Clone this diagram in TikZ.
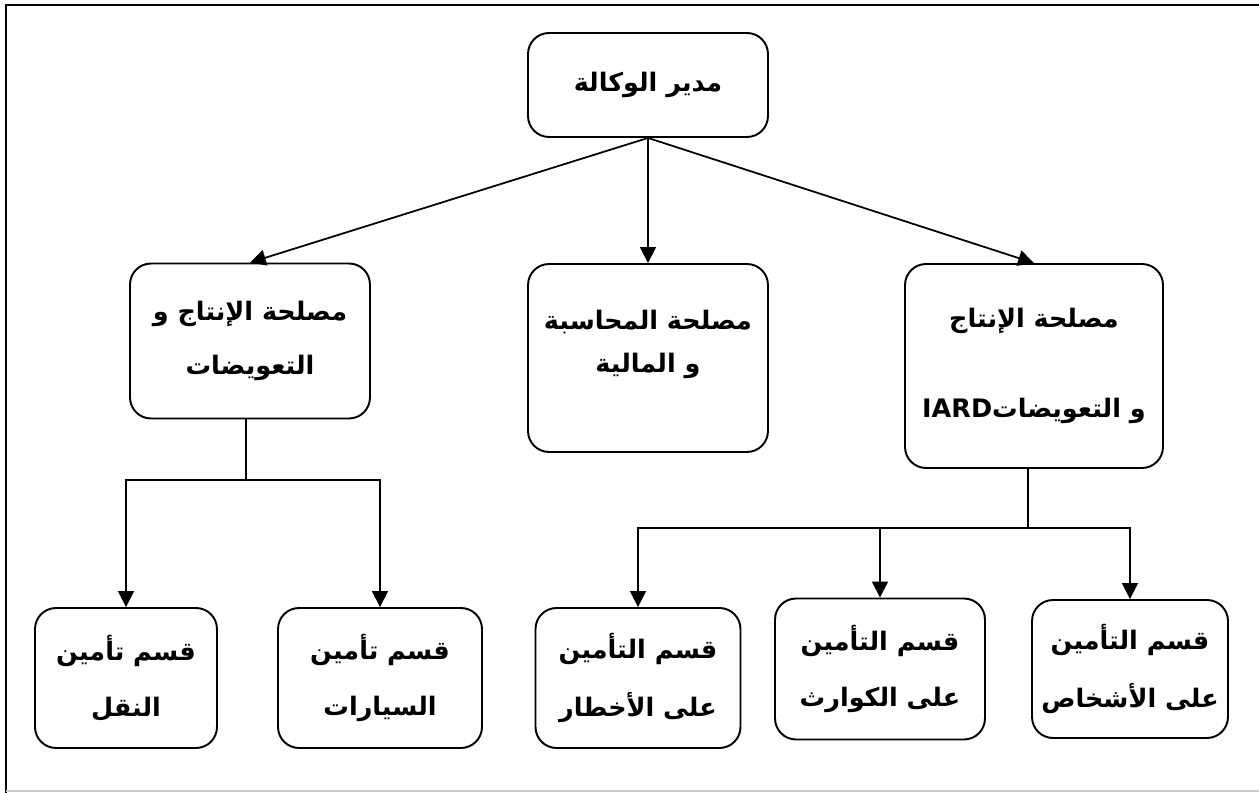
\documentclass[tikz,border=0pt]{standalone}
\usepackage{fontspec}
\usepackage{tikz}
\usetikzlibrary{arrows.meta, calc}
\TeXXeTstate=1
\newfontfamily\arabicfont[Script=Arabic]{DejaVu Sans}
\newcommand{\ar}[1]{{\arabicfont\bfseries\beginR #1\endR}}

\tikzset{
    unit/.style={draw, line width=1.1pt, rounded corners=0.42cm, align=center,
        inner sep=0pt, font=\fontsize{14.5}{17}\selectfont},
    link/.style={line width=1pt, -{Triangle[length=9pt,width=9pt]}}
}

\begin{document}
\begin{tikzpicture}[x=0.02cm, y=-0.02cm]
    \useasboundingbox (0,0) rectangle (1259,793);
    % Frame
    \draw[line width=1.6pt] (6,793) -- (6,5) -- (1259,5);
    \draw[gray!40, line width=0.6pt] (6,791) -- (1259,791);

    % Top
    \node[unit, minimum width=4.8cm, minimum height=2.08cm] (dir) at (648,85) {\ar{مدير الوكالة}};

    % Services
    \node[unit, minimum width=4.8cm, minimum height=3.1cm] (srvA) at (250,341)
        {\ar{مصلحة الإنتاج و}\\[14pt]\ar{التعويضات}};
    \node[unit, minimum width=4.8cm, minimum height=3.76cm] (srvB) at (648,358)
        {\ar{مصلحة المحاسبة}\\[8pt]\ar{و المالية}\\[2pt]\mbox{}};
    \node[unit, minimum width=5.16cm, minimum height=4.08cm] (srvC) at (1034,366)
        {\ar{مصلحة الإنتاج}\\[34pt]\ar{و التعويضات\beginL IARD\endL}};

    % Sections
    \node[unit, minimum width=3.64cm, minimum height=2.8cm] (secA) at (126,678)
        {\ar{قسم تأمين}\\[15pt]\ar{النقل}};
    \node[unit, minimum width=4.08cm, minimum height=2.8cm] (secB) at (380,678)
        {\ar{قسم تأمين}\\[15pt]\ar{السيارات}};
    \node[unit, minimum width=4.1cm, minimum height=2.8cm] (secC) at (638,678)
        {\ar{قسم التأمين}\\[15pt]\ar{على الأخطار}};
    \node[unit, minimum width=4.2cm, minimum height=2.82cm] (secD) at (880,669)
        {\ar{قسم التأمين}\\[15pt]\ar{على الكوارث}};
    \node[unit, minimum width=3.92cm, minimum height=2.76cm] (secE) at (1130,669)
        {\ar{قسم التأمين}\\[15pt]\ar{على الأشخاص}};

    % Links from the top
    \draw[link] (dir.south) -- (srvA.north);
    \draw[link] (dir.south) -- (srvB.north);
    \draw[link] (dir.south) -- (srvC.north);

    % Left branch
    \coordinate (jA) at (246,480);
    \draw[line width=1pt] (srvA.south -| jA) -- (jA);
    \draw[link] (jA) -| (secA.north);
    \draw[link] (jA) -| (secB.north);

    % Right branch
    \coordinate (jC) at (1028,528);
    \draw[line width=1pt] (srvC.south -| jC) -- (jC);
    \draw[link] (jC) -| (secC.north);
    \draw[link] (jC) -| (secD.north);
    \draw[link] (jC) -| (secE.north);
\end{tikzpicture}
\end{document}
